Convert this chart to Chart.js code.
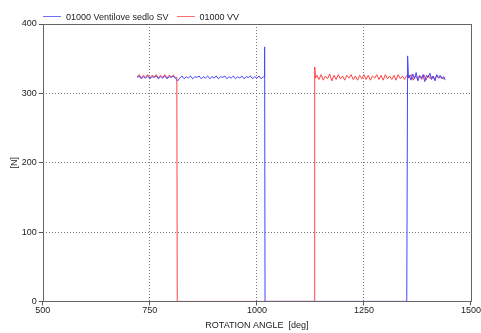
<!DOCTYPE html>
<html>
<head>
<meta charset="utf-8">
<script src="https://cdn.jsdelivr.net/npm/chart.js@4"></script>
<style>
  html, body { margin: 0; padding: 0; background: #fff; }
  #wrap { position: relative; width: 481px; height: 333px; }
  #legend { position: absolute; top: 11px; left: 43px; font: 9px "Liberation Sans", Arial, sans-serif; color: #222; white-space: nowrap; line-height: 12px; }
  #legend span.item { display: inline-block; margin-right: 8px; }
  #legend span.sw { display: inline-block; width: 18px; height: 1px; vertical-align: middle; margin-right: 5px; position: relative; top: -1px; }
</style>
</head>
<body>
<div id="wrap">
  <canvas id="c" width="481" height="333"></canvas>
  <div id="legend"></div>
</div>
<script>
// Series names / colours
const seriesNames = ['01000 Ventilove sedlo SV', '01000 VV'];
const seriesColors = ['#4646ff', '#ff4444'];
const legendColors = ['#6e6eff', '#ff6e6e'];

// Axis ticks
const xTicks = [500, 750, 1000, 1250, 1500];
const yTicks = [0, 100, 200, 300, 400];

// --- SV (blue) ---
const svAngles = [
  720,725,730,735,740,745,750,755,760,765,
  770,775,780,785,790,795,800,805,810,815,
  820,825,830,835,840,845,850,855,860,865,
  870,875,880,885,890,895,900,905,910,915,
  920,925,930,935,940,945,950,955,960,965,
  970,975,980,985,990,995,1000,1005,1010,1015,
  1017,1018,1019,1350,1352,1354,
  1356,1360,1364,1368,1372,1376,1380,1384,1388,1392,
  1396,1400,1404,1408,1412,1416,1420,1424,1428,1432,
  1436,1440
];
const svForce = [
  323,325,321,324,322,325,321,324,323,325,
  321,324,322,325,321,324,323,325,321,318,
  322,325,321,324,322,325,321,324,323,325,
  321,324,322,325,321,324,322,325,321,324,
  323,325,321,324,322,325,321,324,322,325,
  321,324,323,325,321,324,322,325,321,324,
  324,367,0,0,354,322,
  326,319,328,321,330,318,325,322,327,317,
  326,323,329,320,325,318,327,322,326,321,
  324,319
];

// --- VV (red) ---
const vvAngles = [
  720,725,730,735,740,745,750,755,760,765,
  770,775,780,785,790,795,800,805,810,813,
  814,1134,1135,1137,
  1140,1145,1150,1155,1160,1165,1170,1175,1180,1185,
  1190,1195,1200,1205,1210,1215,1220,1225,1230,1235,
  1240,1245,1250,1255,1260,1265,1270,1275,1280,1285,
  1290,1295,1300,1305,1310,1315,1320,1325,1330,1335,
  1340,1345,1350,1355,1360,1365,1370,1375,1380,1385,
  1390,1395,1400,1405,1410,1415,1420,1425,1430,1435,
  1440
];
const vvForce = [
  324,327,322,326,323,327,322,326,324,327,
  322,326,323,327,322,326,324,326,323,323,
  0,0,338,322,
  326,320,327,319,325,321,328,318,326,320,
  327,321,325,319,326,322,327,320,325,319,
  326,321,327,320,326,319,325,322,327,320,
  326,319,327,321,325,320,326,319,327,321,
  325,320,326,322,327,319,325,321,326,320,
  327,319,326,321,325,320,326,322,324,321,
  323
];

const toPts = (xs, ys) => xs.map((x, i) => ({ x, y: ys[i] }));

// HTML legend
const legendEl = document.getElementById('legend');
seriesNames.forEach((n, i) => {
  legendEl.innerHTML += `<span class="item"><span class="sw" style="background-color:${legendColors[i]}"></span>${n}</span>`;
});

const font = { family: '"Liberation Sans", Arial, sans-serif', size: 9 };

const boxPlugin = {
  id: 'box',
  afterDraw(chart) {
    const { ctx, chartArea: a } = chart;
    ctx.save();
    ctx.strokeStyle = '#666';
    ctx.lineWidth = 1;
    ctx.strokeRect(Math.round(a.left) + 0.5, Math.round(a.top) + 0.5, Math.round(a.right - a.left), Math.round(a.bottom - a.top));
    ctx.restore();
  }
};

const gridColor = (edges) => c => edges.includes(c.tick.value) ? 'rgba(0,0,0,0)' : '#777';

new Chart(document.getElementById('c'), {
  type: 'line',
  data: {
    datasets: [
      { label: seriesNames[0], data: toPts(svAngles, svForce), borderColor: seriesColors[0], borderWidth: 1, pointRadius: 0, tension: 0 },
      { label: seriesNames[1], data: toPts(vvAngles, vvForce), borderColor: seriesColors[1], borderWidth: 1, pointRadius: 0, tension: 0 }
    ]
  },
  options: {
    responsive: false,
    animation: false,
    layout: { padding: { top: 24, left: 9, right: 0, bottom: 0 } },
    plugins: { legend: { display: false }, tooltip: { enabled: false } },
    scales: {
      x: {
        type: 'linear', min: 500, max: 1500,
        afterBuildTicks: s => { s.ticks = xTicks.map(v => ({ value: v })); },
        ticks: { color: '#222', font, padding: 0, maxRotation: 0, callback: v => String(v) },
        grid: { color: gridColor([500, 1500]), tickColor: '#555', tickLength: 4, tickBorderDash: [] },
        border: { display: false, dash: [1, 2] },
        title: { display: true, text: 'ROTATION ANGLE  [deg]', color: '#222', font, padding: { top: 4, bottom: 2 } }
      },
      y: {
        min: 0, max: 400,
        afterBuildTicks: s => { s.ticks = yTicks.map(v => ({ value: v })); },
        ticks: { color: '#222', font, padding: 2, callback: v => String(v) },
        grid: { color: gridColor([0, 400]), tickColor: '#555', tickLength: 4, tickBorderDash: [] },
        border: { display: false, dash: [1, 2] },
        title: { display: true, text: '[N]', color: '#222', font, padding: { top: 0, bottom: 0 } }
      }
    }
  },
  plugins: [boxPlugin]
});
</script>
</body>
</html>
